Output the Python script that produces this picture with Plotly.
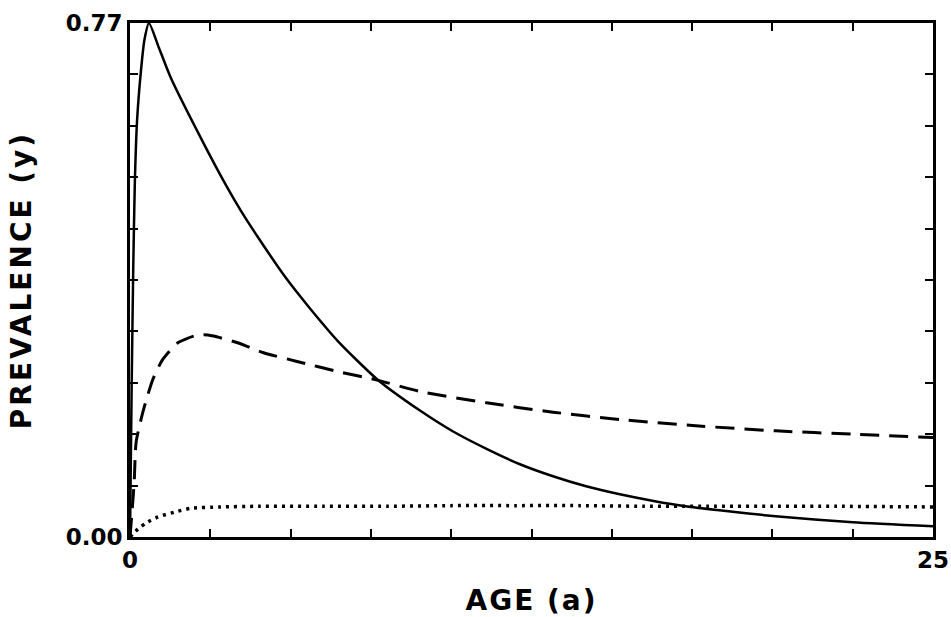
import plotly.graph_objects as go

# ---- data ----
solid_age = [0, 0.05, 0.1, 0.15, 0.22, 0.34, 0.45, 0.59, 0.9, 1.27, 2.3, 3.0, 3.45, 4.0,
             4.84, 5.56, 6.5, 7.7, 9.04, 10.06, 11.1, 12.14, 13.17, 14.2, 15.25, 16.3,
             17.3, 18.35, 20.1, 22.5, 25.0]
solid_val = [0, 0.22, 0.40, 0.53, 0.624, 0.698, 0.745, 0.77, 0.733, 0.688, 0.589, 0.526, 0.489, 0.448,
             0.389, 0.345, 0.292, 0.236, 0.189, 0.158, 0.132, 0.109, 0.091, 0.076, 0.064, 0.054,
             0.046, 0.040, 0.031, 0.022, 0.016]

dashed_age = [0, 0.05, 0.13, 0.19, 0.4, 0.71, 1.02, 1.49, 1.99, 2.3, 2.6, 3.35, 4.16, 5.2,
              6.46, 7.7, 9.04, 11.1, 13.17, 15.25, 17.8, 20.1, 22.5, 25.0]
dashed_val = [0, 0.03, 0.082, 0.142, 0.187, 0.236, 0.266, 0.291, 0.301, 0.303, 0.301, 0.291, 0.276, 0.263,
              0.248, 0.235, 0.218, 0.201, 0.187, 0.176, 0.166, 0.159, 0.154, 0.149]

dotted_age = [0, 0.25, 0.5, 0.87, 1.37, 1.9, 2.8, 4, 6, 8, 10, 12, 14, 16, 18, 20, 22, 25]
dotted_val = [0, 0.012, 0.021, 0.030, 0.037, 0.043, 0.045, 0.046, 0.046, 0.046, 0.047, 0.047,
              0.047, 0.046, 0.046, 0.046, 0.046, 0.045]

x_tickvals = [0, 2.5, 5, 7.5, 10, 12.5, 15, 17.5, 20, 22.5, 25]
x_ticktext = ["0", "", "", "", "", "", "", "", "", "", "25"]
y_tickvals = [0, 0.077, 0.154, 0.231, 0.308, 0.385, 0.462, 0.539, 0.616, 0.693, 0.77]
y_ticktext = ["0.00", "", "", "", "", "", "", "", "", "", "0.77"]

FONT = "DejaVu Sans"

fig = go.Figure()
fig.add_trace(go.Scatter(x=solid_age, y=solid_val, mode="lines",
                         line=dict(color="black", width=2.5, shape="spline", smoothing=0.6),
                         showlegend=False))
fig.add_trace(go.Scatter(x=dashed_age, y=dashed_val, mode="lines",
                         line=dict(color="black", width=3, dash="19px,10px", shape="spline", smoothing=0.6),
                         showlegend=False))
fig.add_trace(go.Scatter(x=dotted_age, y=dotted_val, mode="lines",
                         line=dict(color="black", width=3.5, dash="3px,5px", shape="spline", smoothing=0.6),
                         showlegend=False))

fig.update_layout(
    width=951, height=617,
    margin=dict(l=130, r=18, t=23, b=80),
    paper_bgcolor="white", plot_bgcolor="white",
    font=dict(family=FONT, color="black", size=22),
)
fig.update_xaxes(
    range=[0, 25], tickvals=x_tickvals, ticktext=x_ticktext,
    showline=True, linecolor="black", linewidth=3, mirror="ticks",
    ticks="inside", ticklen=8, tickwidth=2, tickcolor="black",
    showgrid=False, zeroline=False, automargin=False,
    tickfont=dict(size=23, family=FONT, weight="bold"),
    title=dict(text="AGE (a)", font=dict(size=28, family=FONT, weight="bold"), standoff=24),
)
fig.update_yaxes(
    range=[0, 0.77], tickvals=y_tickvals, ticktext=y_ticktext,
    showline=True, linecolor="black", linewidth=3, mirror="ticks",
    ticks="inside", ticklen=8, tickwidth=2, tickcolor="black",
    showgrid=False, zeroline=False, automargin=False,
    tickfont=dict(size=23, family=FONT, weight="bold"),
    title=dict(text="PREVALENCE (y)", font=dict(size=28, family=FONT, weight="bold"), standoff=26),
)

post = ("document.querySelectorAll('.g-xtitle text').forEach(function(t){t.style.letterSpacing='2px';});"
        "document.querySelectorAll('.g-ytitle text').forEach(function(t){t.style.letterSpacing='3px';});")

fig.write_html("out.html", post_script=post)
